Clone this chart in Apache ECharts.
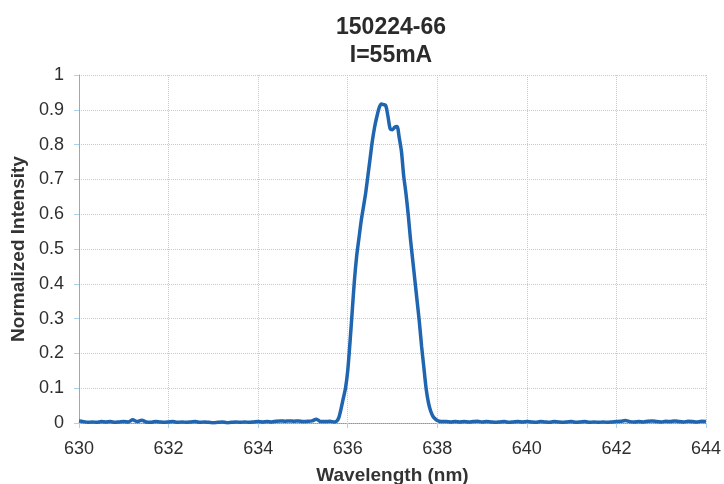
<!DOCTYPE html>
<html>
<head>
<meta charset="utf-8">
<script src="https://cdn.jsdelivr.net/npm/echarts@6/dist/echarts.min.js"></script>
<style>
  html, body { margin: 0; padding: 0; background: #fff; }
  #chart { width: 724px; height: 484px; }
</style>
</head>
<body>
<div id="chart"></div>
<script>
// Emission spectrum of device 150224-66 at I = 55 mA
const chartTitle = '150224-66\nI=55mA';
const xAxisName = 'Wavelength (nm)';
const yAxisName = 'Normalized Intensity';

const wavelength = [
  630.0, 630.1, 630.2, 630.3, 630.4, 630.5, 630.6, 630.7, 630.8, 630.9,
  631.0, 631.1, 631.2, 631.3, 631.4, 631.5, 631.6, 631.7, 631.8, 631.9,
  632.0, 632.1, 632.2, 632.3, 632.4, 632.5, 632.6, 632.7, 632.8, 632.9,
  633.0, 633.1, 633.2, 633.3, 633.4, 633.5, 633.6, 633.7, 633.8, 633.9,
  634.0, 634.1, 634.2, 634.3, 634.4, 634.5, 634.6, 634.7, 634.8, 634.9,
  635.0, 635.1, 635.2, 635.3, 635.4, 635.5, 635.6,
  635.70, 635.75, 635.80, 635.85, 635.90, 635.95, 636.00, 636.05, 636.10, 636.15,
  636.20, 636.25, 636.30, 636.35, 636.40, 636.45, 636.50, 636.55, 636.60, 636.65,
  636.70, 636.75, 636.80, 636.85, 636.90, 636.95, 637.00, 637.05, 637.10, 637.15,
  637.20, 637.25, 637.30, 637.35, 637.40, 637.45, 637.50, 637.55, 637.60, 637.65,
  637.70, 637.75, 637.80, 637.85, 637.90, 637.95, 638.00, 638.05, 638.10,
  638.2, 638.3, 638.4, 638.5, 638.6, 638.7, 638.8, 638.9,
  639.0, 639.1, 639.2, 639.3, 639.4, 639.5, 639.6, 639.7, 639.8, 639.9,
  640.0, 640.1, 640.2, 640.3, 640.4, 640.5, 640.6, 640.7, 640.8, 640.9,
  641.0, 641.1, 641.2, 641.3, 641.4, 641.5, 641.6, 641.7, 641.8, 641.9,
  642.0, 642.1, 642.2, 642.3, 642.4, 642.5, 642.6, 642.7, 642.8, 642.9,
  643.0, 643.1, 643.2, 643.3, 643.4, 643.5, 643.6, 643.7, 643.8, 643.9,
  644.0
];

const intensity = [
  0.006, 0.004, 0.002, 0.003, 0.002, 0.004, 0.003, 0.004, 0.002, 0.003,
  0.004, 0.003, 0.009, 0.004, 0.008, 0.003, 0.002, 0.004, 0.003, 0.002,
  0.003, 0.004, 0.002, 0.003, 0.002, 0.003, 0.004, 0.002, 0.003, 0.002,
  0.001, 0.002, 0.003, 0.001, 0.002, 0.003, 0.002, 0.003, 0.002, 0.003,
  0.004, 0.003, 0.004, 0.003, 0.005, 0.006, 0.005, 0.006, 0.005, 0.006,
  0.004, 0.005, 0.006, 0.011, 0.004, 0.004, 0.005,
  0.003, 0.005, 0.015, 0.040, 0.070, 0.100, 0.150, 0.230, 0.320, 0.410,
  0.480, 0.530, 0.580, 0.620, 0.660, 0.710, 0.760, 0.810, 0.850, 0.880,
  0.905, 0.917, 0.915, 0.912, 0.880, 0.845, 0.843, 0.850, 0.852, 0.820,
  0.780, 0.710, 0.660, 0.600, 0.530, 0.470, 0.410, 0.350, 0.290, 0.220,
  0.160, 0.100, 0.060, 0.035, 0.020, 0.012, 0.007, 0.005, 0.004,
  0.004, 0.003, 0.004, 0.003, 0.004, 0.003, 0.004, 0.005,
  0.003, 0.004, 0.003, 0.002, 0.003, 0.004, 0.002, 0.003, 0.004, 0.003,
  0.004, 0.003, 0.002, 0.004, 0.003, 0.002, 0.004, 0.003, 0.002, 0.003,
  0.004, 0.002, 0.003, 0.004, 0.002, 0.003, 0.002, 0.003, 0.002, 0.003,
  0.004, 0.005, 0.007, 0.004, 0.003, 0.004, 0.003, 0.005, 0.006, 0.004,
  0.003, 0.005, 0.004, 0.006, 0.004, 0.003, 0.005, 0.004, 0.003, 0.005,
  0.004
];

const seriesData = wavelength.map((w, i) => [w, intensity[i]]);

const fontFamily = '"Liberation Sans", Arial, sans-serif';
const gridColor = '#a9d3ea';
const labelColor = '#2e2e2e';

const chart = echarts.init(document.getElementById('chart'), null, { renderer: 'canvas' });

chart.setOption({
  backgroundColor: '#ffffff',
  animation: false,
  title: {
    text: chartTitle,
    left: 386,
    top: 9,
    textAlign: 'center',
    textStyle: {
      fontFamily: fontFamily,
      fontSize: 23,
      fontWeight: 'bold',
      color: '#2b2b2b',
      lineHeight: 28
    }
  },
  grid: {
    left: 79,
    right: 18,
    top: 75,
    bottom: 61,
    containLabel: false,
    outerBoundsMode: 'none'
  },
  xAxis: {
    type: 'value',
    min: 630,
    max: 644,
    interval: 2,
    name: xAxisName,
    nameLocation: 'middle',
    nameGap: 43,
    nameTextStyle: {
      fontFamily: fontFamily,
      fontSize: 19,
      fontWeight: 'bold',
      color: '#333'
    },
    axisLine: {
      show: true,
      lineStyle: { color: '#8a989e', width: 1, type: 'dotted' }
    },
    axisTick: {
      show: true,
      length: 5,
      lineStyle: { color: gridColor }
    },
    axisLabel: {
      fontFamily: fontFamily,
      fontSize: 18,
      color: labelColor,
      margin: 17
    },
    splitLine: {
      show: true,
      lineStyle: { color: gridColor, type: 'dotted', width: 1 }
    }
  },
  yAxis: {
    type: 'value',
    min: 0,
    max: 1,
    interval: 0.1,
    name: yAxisName,
    nameLocation: 'middle',
    nameGap: 49,
    nameRotate: 90,
    nameTextStyle: {
      fontFamily: fontFamily,
      fontSize: 19,
      fontWeight: 'bold',
      color: '#333'
    },
    axisLine: {
      show: true,
      lineStyle: { color: '#7ab3da', width: 1 }
    },
    axisTick: {
      show: true,
      length: 5,
      lineStyle: { color: gridColor }
    },
    axisLabel: {
      fontFamily: fontFamily,
      fontSize: 18,
      color: labelColor,
      margin: 15,
      formatter: v => String(Math.round(v * 10) / 10)
    },
    splitLine: {
      show: true,
      lineStyle: { color: gridColor, type: 'dotted', width: 1 }
    }
  },
  series: [{
    type: 'line',
    data: seriesData,
    showSymbol: false,
    smooth: 0.3,
    lineStyle: { color: '#1f65b0', width: 3.5 },
    itemStyle: { color: '#1f65b0' }
  }]
});
</script>
</body>
</html>
